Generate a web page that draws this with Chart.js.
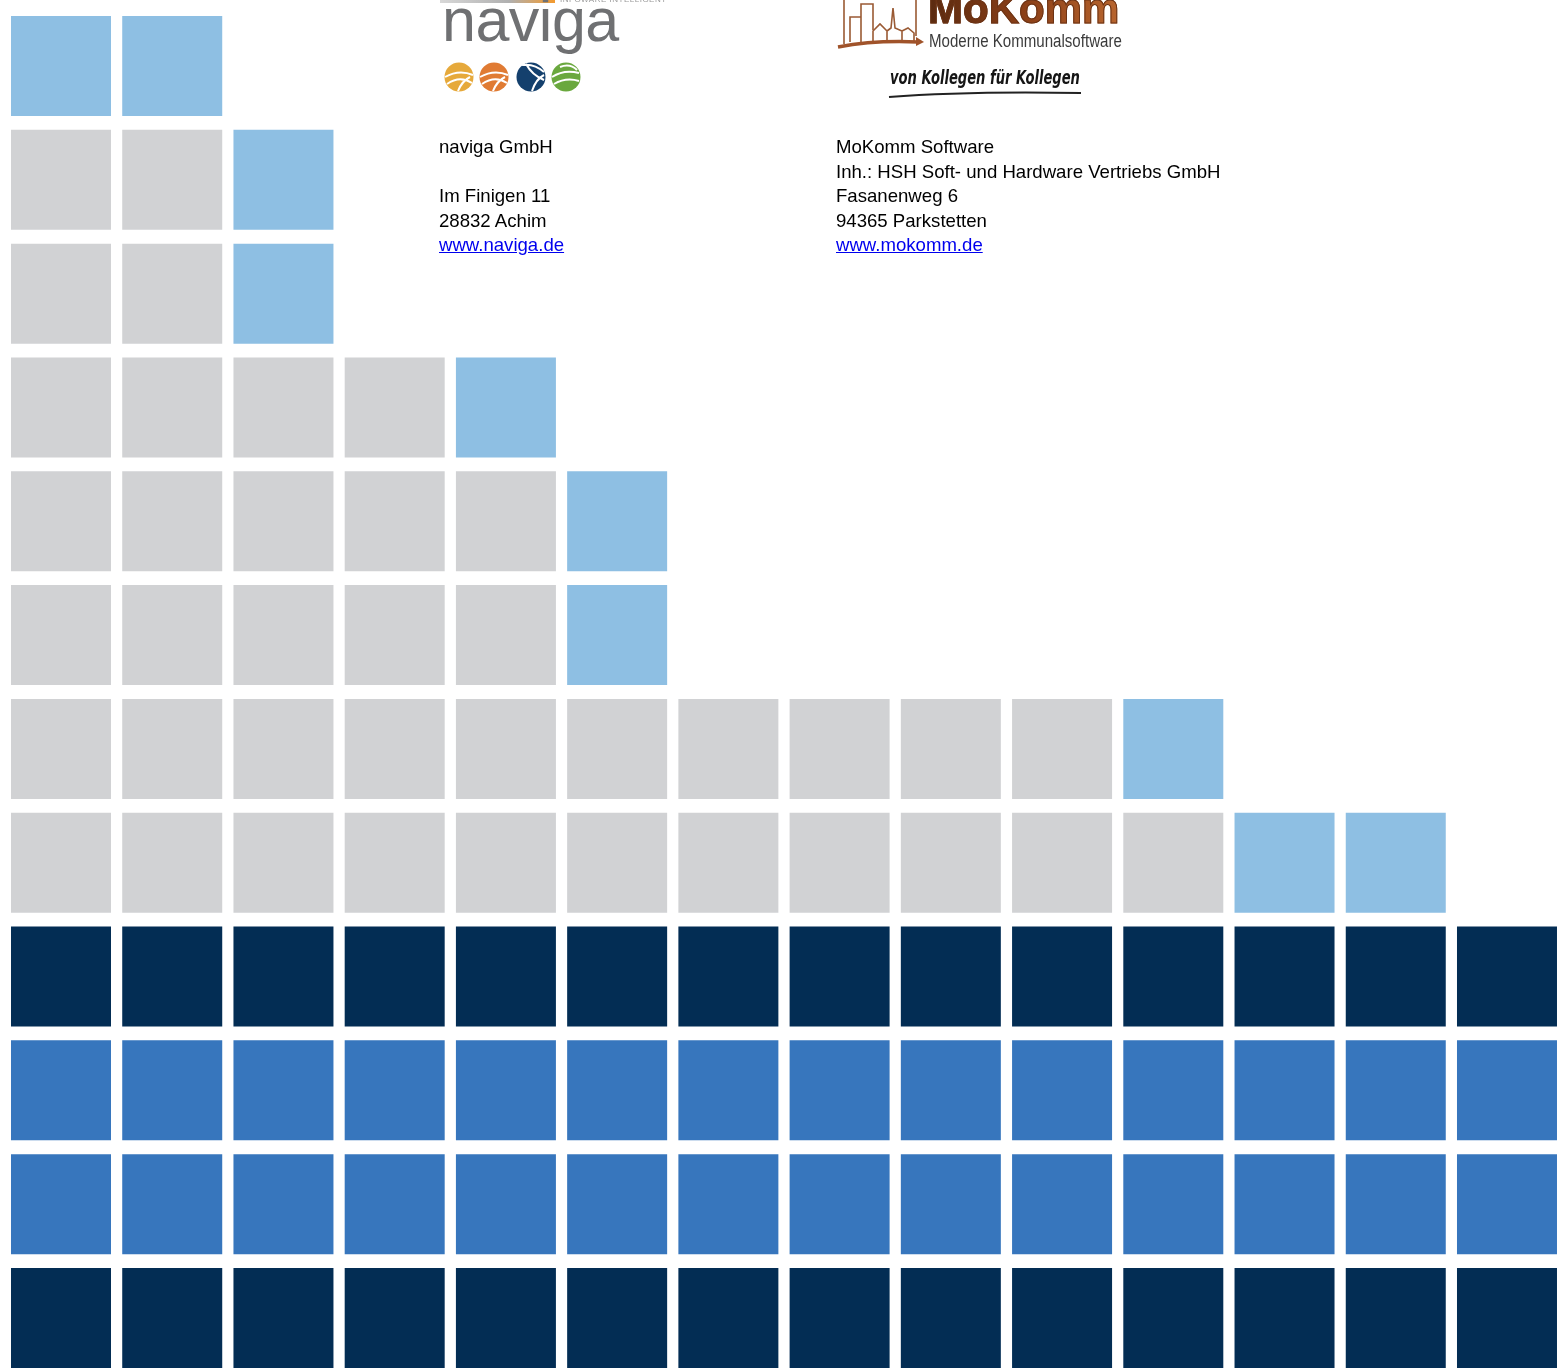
<!DOCTYPE html>
<html lang="de">
<head>
<meta charset="utf-8">
<title>naviga / MoKomm</title>
<script src="https://cdn.jsdelivr.net/npm/chart.js@4.4.1/dist/chart.umd.min.js"></script>
<style>
    html, body { margin: 0; padding: 0; background: #fff; }
    body { width: 1559px; height: 1370px; position: relative; overflow: hidden; font-family: "Liberation Sans", Arial, sans-serif; }
    #chartBox { position: absolute; left: 0; top: 0; width: 1559px; height: 1370px; }
    .addr { position: absolute; top: 135px; font-size: 18.6px; line-height: 24.6px; color: #000; white-space: nowrap; }
    .addr a { color: #0000ee; text-decoration: underline; }
    .logo { position: absolute; white-space: nowrap; }
</style>
</head>
<body>
<div id="chartBox"><canvas id="gridChart"></canvas></div>

<!-- Logo naviga -->
<div class="logo" style="left:440px; top:0; width:115px; height:3px; background:linear-gradient(90deg,#d8d8d8,#b0b0b0 60%,#f39a2e);"></div>
<div class="logo" style="left:560px; top:-5px; font-size:8px; letter-spacing:0.5px; color:#9a9a9a;">INFOWARE INTELLIGENT</div>
<div class="logo" style="left:442px; top:-10px; font-size:61px; line-height:61px; color:#6f7072; letter-spacing:-0.5px;">naviga</div>
<svg class="logo" style="left:436px; top:55px;" width="160" height="45" viewBox="0 0 160 45">
    <g stroke="#fff" stroke-width="2" fill="none">
        <circle cx="23" cy="22" r="14.5" fill="#e6a93b" stroke="none"/>
        <path d="M9 22 Q23 14 37 20 M11 29 Q24 20 36 28 M22 36 Q26 26 34 22"/>
        <circle cx="58" cy="22" r="14.5" fill="#e07b33" stroke="none"/>
        <path d="M44 22 Q58 14 72 20 M46 29 Q59 20 71 28 M57 36 Q61 26 69 22"/>
        <circle cx="95" cy="22" r="14.5" fill="#14406d" stroke="none"/>
        <path d="M86 10 Q98 8 108 17 M96 36 Q100 24 108 20 M90 9 Q96 20 108 25"/>
        <circle cx="130" cy="22" r="14.5" fill="#6aa83e" stroke="none"/>
        <path d="M116 22 Q128 14 143 18 M118 29 Q130 22 143 26 M124 12 Q134 8 141 15"/>
    </g>
</svg>

<!-- Logo MoKomm -->
<svg class="logo" style="left:830px; top:0;" width="100" height="60" viewBox="0 0 100 60">
    <g stroke="#9a5a34" stroke-width="1.6" fill="none">
        <path d="M14 0 V44 M86 0 V36"/>
        <path d="M20 42 V17 H31 V42 M31 17 V4 H43 V30"/>
        <path d="M43 42 V31 L50 24 L57 31 V42 M57 31 L61 28 L63 8 L65 28 L72 31 V42 M72 31 L78 28 L84 33 V42"/>
    </g>
    <path d="M8 47 Q45 40 88 42" stroke="#a0532a" stroke-width="3.5" fill="none"/>
    <path d="M86 37 L94 42 L86 46 Z" fill="#a0532a"/>
</svg>
<div class="logo" style="left:928px; top:-12px; font-size:42px; line-height:42px; font-weight:bold; -webkit-text-stroke:1px #6b3315; background:linear-gradient(90deg,#5a2a10,#8b3f17 50%,#b8652e); -webkit-background-clip:text; background-clip:text; color:transparent;">MoKomm</div>
<div class="logo" style="left:929px; top:31px; font-size:18px; line-height:20px; color:#3b3b3b; transform:scaleX(0.838); transform-origin:left top;">Moderne Kommunalsoftware</div>
<div class="logo" style="left:890px; top:66px; font-size:19px; line-height:22px; font-weight:bold; font-style:italic; color:#151515; font-family:'DejaVu Sans', sans-serif; transform:scaleX(0.69); transform-origin:left top;">von Kollegen für Kollegen</div>
<svg class="logo" style="left:885px; top:88px;" width="200" height="12" viewBox="0 0 200 12">
    <path d="M4 9 Q80 3 196 5" stroke="#222" stroke-width="2" fill="none"/>
</svg>

<!-- Adressen -->
<div class="addr" style="left:439px;">
    naviga GmbH<br>
    <br>
    Im Finigen 11<br>
    28832 Achim<br>
    <a href="#">www.naviga.de</a>
</div>
<div class="addr" style="left:836px;">
    MoKomm Software<br>
    Inh.: HSH Soft- und Hardware Vertriebs GmbH<br>
    Fasanenweg 6<br>
    94365 Parkstetten<br>
    <a href="#">www.mokomm.de</a>
</div>

<script>
// Raster: 14 Spalten, obere Zeilen = graue Felder + hellblaue Felder
const COLS = 14;
const greyRun = [0, 2, 2, 4, 5, 5, 10, 11];
const lightRun = [2, 1, 1, 1, 1, 1, 1, 2];
// Volle Bänder unten
const bandRows = ['navy', 'mid', 'mid', 'navy'];

const colors = {
    grey: '#d1d2d4',
    light: '#8ebfe3',
    navy: '#032d54',
    mid: '#3776bd'
};

// Punkte je Farbe sammeln
const cells = { grey: [], light: [], navy: [], mid: [] };
greyRun.forEach((g, r) => {
    for (let c = 0; c < g; c++) cells.grey.push({ x: c, y: r });
    for (let c = g; c < g + lightRun[r]; c++) cells.light.push({ x: c, y: r });
});
bandRows.forEach((kind, i) => {
    const r = greyRun.length + i;
    for (let c = 0; c < COLS; c++) cells[kind].push({ x: c, y: r });
});

const datasets = Object.keys(cells).map(kind => ({
    label: kind,
    data: cells[kind],
    pointStyle: 'rect',
    pointRadius: 70.71,
    pointHoverRadius: 70.71,
    pointBackgroundColor: colors[kind],
    pointBorderWidth: 0,
    pointHoverBorderWidth: 0,
    showLine: false,
    clip: false
}));

const ctx = document.getElementById('gridChart').getContext('2d');
new Chart(ctx, {
    type: 'scatter',
    data: { datasets: datasets },
    options: {
        responsive: true,
        maintainAspectRatio: false,
        animation: false,
        events: [],
        layout: { padding: 0, autoPadding: false },
        plugins: { legend: { display: false }, tooltip: { enabled: false } },
        scales: {
            x: { type: 'linear', display: false, min: -0.5484, max: 13.4676 },
            y: { type: 'linear', display: false, reverse: true, min: -0.5799, max: 11.4569 }
        }
    }
});
</script>
</body>
</html>
